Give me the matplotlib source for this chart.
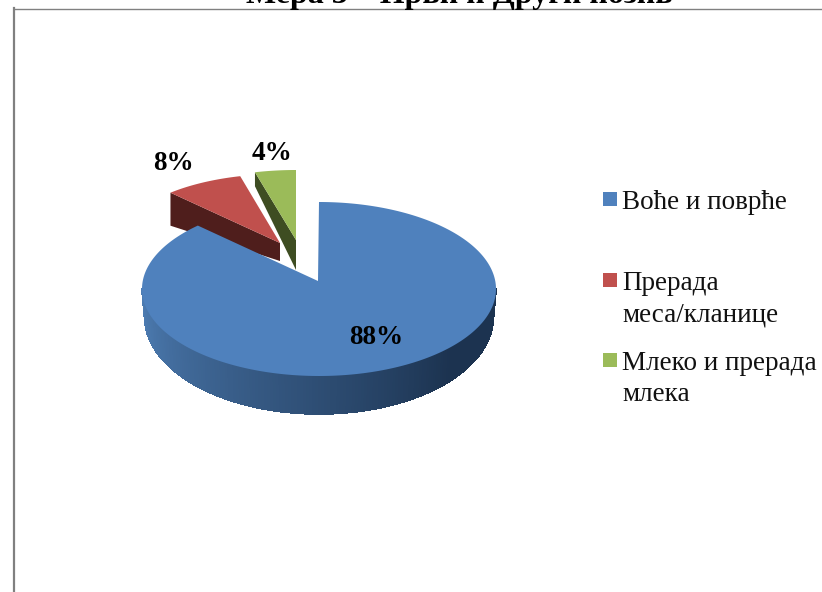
#!/usr/bin/env python3

"""
3D-LOOKING PIE (exploded small slices) WITH A SIDE LEGEND
"""

import numpy as np
import matplotlib

matplotlib.use("Agg")
import matplotlib.pyplot as plt
from matplotlib.collections import PolyCollection
from matplotlib.patches import Polygon, Rectangle

title = "Мера 3 – Први и Други позив"
categories = ["Воће и поврће", "Прерада\nмеса/кланице", "Млеко и прерада\nмлека"]
shares = [88, 8, 4]
share_labels = ["88%", "8%", "4%"]
top_colors = ["#4f81bd", "#c0504d", "#9bbb59"]
side_colors = ["#1c3350", "#4f1e1c", "#3e4d22"]

plt.rcParams["font.family"] = ["Liberation Serif", "DejaVu Serif"]

fig = plt.figure(figsize=(8.22, 5.92), dpi=100)
ax = fig.add_axes([0, 0, 1, 1])
ax.set_xlim(0, 822)
ax.set_ylim(592, 0)
ax.axis("off")


def rim(cx, cy, rx, ry, a0, a1, n=120):
    # angles are clockwise from 12 o'clock, degrees
    t = np.radians(np.linspace(a0, a1, n))
    return np.column_stack([cx + rx * np.sin(t), cy - ry * np.cos(t)])


# frame of the chart, cut by the picture on the right and at the bottom
ax.plot([14, 822], [8.5, 8.5], color="#808080", lw=1.0, zorder=1)
ax.plot([14, 14], [8, 592], color="#808080", lw=1.6, zorder=1)

ax.text(459, 3, title, ha="center", va="baseline", fontsize=23, fontweight="bold",
        color="black", zorder=5)

# slice angles from the values
edges = np.cumsum([0] + shares) / sum(shares) * 360

# small slices first, blue one covers their lower part
# red
apex = np.array([280, 243])
arc = rim(apex[0], apex[1], 160, 69, edges[1], edges[2], 40)
ax.add_patch(Polygon([arc[0], apex, apex + [0, 18], arc[0] + [0, 33]],
                     color=side_colors[1], lw=0, zorder=2))
ax.add_patch(Polygon(np.vstack([apex, arc]), color=top_colors[1], lw=0, zorder=3))

# green
apex = np.array([296, 240])
arc = rim(apex[0], apex[1] + 2, 165, 72, edges[2], edges[3], 30)
ax.add_patch(Polygon([arc[0], apex, apex + [0, 30], arc[0] + [0, 14]],
                     color=side_colors[2], lw=0, zorder=2))
ax.add_patch(Polygon(np.vstack([apex, arc]), color=top_colors[2], lw=0, zorder=3))

# blue: wall made of thin strips going darker to the right
cx, cy, rx, ry = 319, 289, 177, 87
front = np.linspace(270, 90, 181)
upper = rim(cx, cy, rx, ry, front[0], front[-1], 181)
depth = 28 + 10 * np.clip(-np.cos(np.radians(front)), 0, 1)
lower = upper + np.column_stack([np.zeros(181), depth])
lower[:, 0] = cx + (lower[:, 0] - cx) * 0.985
strips = [[upper[i], upper[i + 1], lower[i + 1], lower[i]] for i in range(180)]
light = np.array(matplotlib.colors.to_rgb("#4f7fb6"))
dark = np.array(matplotlib.colors.to_rgb(side_colors[0]))
mix = np.clip(np.linspace(0, 1.3, 180), 0, 1)[:, None]
ax.add_collection(PolyCollection(strips, facecolors=light * (1 - mix) + dark * mix,
                                 edgecolors="face", linewidths=0.5, antialiaseds=False,
                                 zorder=3.5))

arc = rim(cx, cy, rx, ry, edges[0], edges[1], 300)
ax.add_patch(Polygon(np.vstack([[318, 281], arc]), color=top_colors[0], lw=0, zorder=4))

# percent labels
label_xy = [(376, 338), (173, 163), (272, 153)]
for txt, (x, y) in zip(share_labels, label_xy):
    ax.text(x, y, txt, ha="center", va="center", fontsize=19.6, fontweight="bold",
            color="black", zorder=6)

# legend
legend_y = [199, 280, 360]
for name, col, y in zip(categories, top_colors, legend_y):
    ax.add_patch(Rectangle((603, y - 7), 14, 14, color=col, lw=0, zorder=5))
    ax.text(622, y - 9, name, ha="left", va="top", fontsize=19.5, color="#111111",
            linespacing=1.33, zorder=5)

fig.savefig("out.png", dpi=100)
